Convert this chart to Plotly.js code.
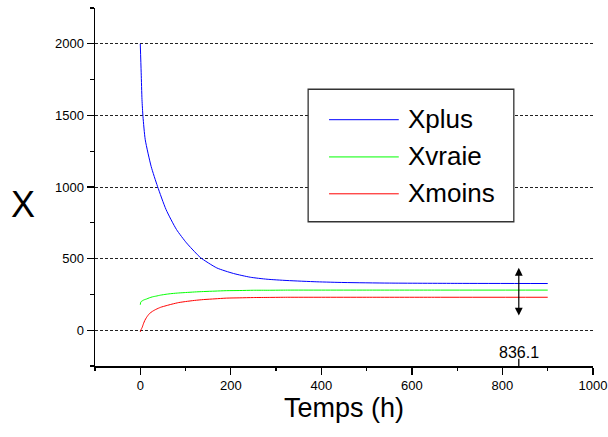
<!DOCTYPE html>
<html>
<head>
<meta charset="utf-8">
<script src="https://cdn.plot.ly/plotly-3.0.1.min.js"></script>
<style>
  html, body { margin: 0; padding: 0; background: #ffffff; }
  #chart { width: 608px; height: 437px; }
</style>
</head>
<body>
<div id="chart"></div>
<script>
// Time in hours for each series
var hoursPlus = [0, 2, 3.8, 6, 11, 24, 38, 57, 80, 102, 120, 133, 169, 206, 243, 280, 324, 390, 450, 550, 700, 900];
var hoursVraie = [0, 1, 2, 4, 7, 10, 14, 20, 27, 35, 45, 57, 70, 85, 100, 120, 140, 165, 190, 220, 250, 285, 325, 400, 500, 650, 900];
var hoursMoins = [0, 1, 2, 4, 7, 10, 14, 20, 27, 35, 45, 57, 70, 85, 100, 120, 140, 165, 190, 220, 250, 285, 325, 400, 500, 650, 900];

// Upper estimate
var xPlus = [2000, 1798, 1610, 1491, 1330, 1144, 1005, 842, 703, 610, 548, 507, 435, 396, 370, 356, 347, 338, 333, 329, 327, 326];
// True value
var xVraie = [178, 195, 200, 204, 210, 214, 218, 226, 233, 238, 245, 251, 256, 260, 263, 267, 270, 273, 276, 277, 279, 279, 280, 280, 280, 280, 280];
// Lower estimate
var xMoins = [-12, -2, 6, 18, 45, 68, 90, 115, 132, 146, 160, 171, 182, 193, 200, 208, 214, 219, 224, 226, 228, 229, 230, 230, 230, 230, 230];

var seriesNames = ["Xplus", "Xvraie", "Xmoins"];
var seriesColors = ["#0000ff", "#00ff00", "#ff0000"];
var seriesHours = [hoursPlus, hoursVraie, hoursMoins];
var seriesValues = [xPlus, xVraie, xMoins];

// Vertical cursor and the span it marks
var cursorX = 836.1;
var spanTop = 446;
var spanBottom = 103;

var xRange = [-100, 1000];
var yRange = [-250, 2250];
var xTickVals = [0, 200, 400, 600, 800, 1000];
var yTickVals = [0, 500, 1000, 1500, 2000];
var xMinorVals = [-100, 100, 300, 500, 700, 900];
var yMinorVals = [-250, 250, 750, 1250, 1750, 2250];

var FONT = "Liberation Sans, Arial, Helvetica, sans-serif";

var traces = seriesNames.map(function (name, i) {
  return {
    type: "scatter",
    mode: "lines",
    name: name,
    x: seriesHours[i],
    y: seriesValues[i],
    line: { color: seriesColors[i], width: 1, shape: "spline", smoothing: 0.6 },
    showlegend: false,
    hoverinfo: "skip"
  };
});
// Empty trace that brings up the companion axes carrying the short ticks
traces.push({
  type: "scatter", mode: "lines", x: [], y: [],
  xaxis: "x2", yaxis: "y2", showlegend: false, hoverinfo: "skip"
});

// Boxed key drawn in paper space
var keyBox = { x0: 0.428, x1: 0.841, y0: 0.403, y1: 0.773 };
var keyRows = [0.688, 0.584, 0.481];

var shapes = [
  {
    type: "rect", xref: "paper", yref: "paper",
    x0: keyBox.x0, x1: keyBox.x1, y0: keyBox.y0, y1: keyBox.y1,
    line: { color: "#333333", width: 1.3 },
    fillcolor: "#ffffff", layer: "above"
  },
  {
    type: "line", xref: "x", yref: "paper",
    x0: cursorX, x1: cursorX, y0: 0, y1: 0.02,
    line: { color: "#000000", width: 1.3 }
  }
];

var annotations = [
  {
    xref: "x", yref: "y", axref: "x", ayref: "y",
    x: cursorX, y: spanBottom, ax: cursorX, ay: spanTop,
    text: "", showarrow: true,
    arrowside: "end+start", arrowhead: 2, arrowsize: 1.3, arrowwidth: 1.2,
    arrowcolor: "#000000"
  },
  {
    xref: "x", yref: "paper", x: cursorX, y: 0.039,
    xanchor: "center", yanchor: "middle",
    text: String(cursorX), showarrow: false,
    font: { family: FONT, size: 16, color: "#000000" }
  },
  {
    xref: "paper", yref: "paper", x: -0.1436, y: 0.4525,
    xanchor: "center", yanchor: "middle",
    text: "X", showarrow: false,
    font: { family: FONT, size: 36, color: "#000000" }
  },
  {
    xref: "paper", yref: "paper", x: 0.5, y: -0.118,
    xanchor: "center", yanchor: "middle",
    text: "Temps (h)", showarrow: false,
    font: { family: FONT, size: 27, color: "#000000" }
  }
];

seriesNames.forEach(function (name, i) {
  shapes.push({
    type: "line", xref: "paper", yref: "paper",
    x0: 0.470, x1: 0.610, y0: keyRows[i], y1: keyRows[i],
    line: { color: seriesColors[i], width: 1 }, layer: "above"
  });
  annotations.push({
    xref: "paper", yref: "paper", x: 0.624, y: keyRows[i] + 0.003,
    xanchor: "left", yanchor: "middle",
    text: name, showarrow: false,
    font: { family: FONT, size: 26, color: "#000000" }
  });
});

var layout = {
  width: 608,
  height: 437,
  margin: { l: 95, r: 15, t: 8, b: 71, pad: 0 },
  paper_bgcolor: "#ffffff",
  plot_bgcolor: "#ffffff",
  showlegend: false,
  font: { family: FONT, size: 13, color: "#000000" },
  xaxis: {
    range: xRange,
    tickmode: "array",
    tickvals: xTickVals,
    ticktext: xTickVals.map(String),
    ticks: "outside", ticklen: 7, tickwidth: 1.3, tickcolor: "#000000",
    showline: true, linecolor: "#000000", linewidth: 1.5,
    showgrid: false, zeroline: false,
    tickfont: { family: FONT, size: 13, color: "#000000" }
  },
  yaxis: {
    range: yRange,
    tickmode: "array",
    tickvals: yTickVals,
    ticktext: yTickVals.map(String),
    ticks: "outside", ticklen: 7, tickwidth: 1.3, tickcolor: "#000000",
    showline: true, linecolor: "#000000", linewidth: 1.5,
    showgrid: true, gridcolor: "#222222", gridwidth: 1, griddash: "3px,2px",
    zeroline: false,
    tickfont: { family: FONT, size: 13, color: "#000000" }
  },
  // Short intermediate ticks
  xaxis2: {
    overlaying: "x", anchor: "y", side: "bottom", range: xRange,
    tickmode: "array", tickvals: xMinorVals,
    ticks: "outside", ticklen: 4, tickwidth: 1.3, tickcolor: "#000000",
    showticklabels: false, showline: false, showgrid: false, zeroline: false
  },
  yaxis2: {
    overlaying: "y", anchor: "x", side: "left", range: yRange,
    tickmode: "array", tickvals: yMinorVals,
    ticks: "outside", ticklen: 4, tickwidth: 1.3, tickcolor: "#000000",
    showticklabels: false, showline: false, showgrid: false, zeroline: false
  },
  shapes: shapes,
  annotations: annotations
};

Plotly.newPlot("chart", traces, layout, { displayModeBar: false, staticPlot: true });
</script>
</body>
</html>
